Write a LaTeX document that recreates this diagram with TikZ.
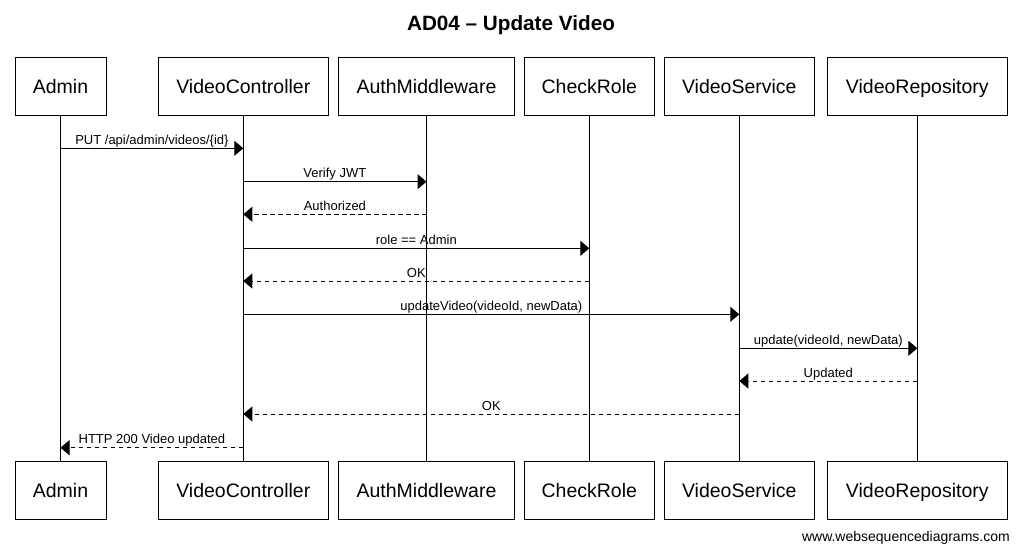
\documentclass[tikz,border=0pt]{standalone}
\usepackage{fontspec}
\setmainfont{Liberation Sans}
\usetikzlibrary{arrows.meta}
\begin{document}
\begin{tikzpicture}[x=1pt,y=-1pt,
  part/.style={draw,line width=1pt,minimum height=58pt,inner sep=0pt,text height=16pt,text depth=2pt,font=\fontsize{19.5}{22}\selectfont},
  life/.style={line width=1pt},
  msg/.style={line width=1pt,-{Triangle[length=9pt,width=15pt]}},
  ret/.style={msg,dash pattern=on 4.5pt off 3.5pt},
  lbl/.style={midway,anchor=base,yshift=4pt,inner sep=0pt,font=\fontsize{13}{15}\selectfont}]
\useasboundingbox (0,0) rectangle (1021,552);
\node[font=\bfseries\fontsize{20.7}{24}\selectfont] (title) at (511,25) {AD04 – Update Video};
% top participants
\node[part,minimum width=91pt] (a) at (60.5,86) {Admin};
\node[part,minimum width=170pt] (vc) at (243.3,86) {VideoController};
\node[part,minimum width=176pt] (am) at (426.5,86) {AuthMiddleware};
\node[part,minimum width=130pt] (cr) at (589.3,86) {CheckRole};
\node[part,minimum width=150pt] (vs) at (739.3,86) {VideoService};
\node[part,minimum width=180pt] (vr) at (917.3,86) {VideoRepository};
% bottom participants
\node[part,minimum width=91pt] (a2) at (60.5,490) {Admin};
\node[part,minimum width=170pt] (vc2) at (243.3,490) {VideoController};
\node[part,minimum width=176pt] (am2) at (426.5,490) {AuthMiddleware};
\node[part,minimum width=130pt] (cr2) at (589.3,490) {CheckRole};
\node[part,minimum width=150pt] (vs2) at (739.3,490) {VideoService};
\node[part,minimum width=180pt] (vr2) at (917.3,490) {VideoRepository};
% lifelines
\foreach \p in {a,vc,am,cr,vs,vr}{\draw[life] (\p.south) -- (\p2.north);}
% message rows
\coordinate (m1) at (0,148.3);
\coordinate (m2) at (0,181.7);
\coordinate (m3) at (0,214.3);
\coordinate (m4) at (0,248.3);
\coordinate (m5) at (0,281);
\coordinate (m6) at (0,314.3);
\coordinate (m7) at (0,348.3);
\coordinate (m8) at (0,381);
\coordinate (m9) at (0,414);
\coordinate (m10) at (0,447.7);
\draw[msg] (a |- m1) -- (vc |- m1) node[lbl] {PUT /api/admin/videos/\{id\}};
\draw[msg] (vc |- m2) -- (am |- m2) node[lbl] {Verify JWT};
\draw[ret] (am |- m3) -- (vc |- m3) node[lbl] {Authorized};
\draw[msg] (vc |- m4) -- (cr |- m4) node[lbl] {role == Admin};
\draw[ret] (cr |- m5) -- (vc |- m5) node[lbl] {OK};
\draw[msg] (vc |- m6) -- (vs |- m6) node[lbl] {updateVideo(videoId, newData)};
\draw[msg] (vs |- m7) -- (vr |- m7) node[lbl] {update(videoId, newData)};
\draw[ret] (vr |- m8) -- (vs |- m8) node[lbl] {Updated};
\draw[ret] (vs |- m9) -- (vc |- m9) node[lbl] {OK};
\draw[ret] (vc |- m10) -- (a |- m10) node[lbl] {HTTP 200 Video updated};
\node[anchor=base east,inner sep=0pt,font=\fontsize{14}{16}\selectfont] (foot) at (1010,541) {www.websequencediagrams.com};
\end{tikzpicture}
\end{document}
